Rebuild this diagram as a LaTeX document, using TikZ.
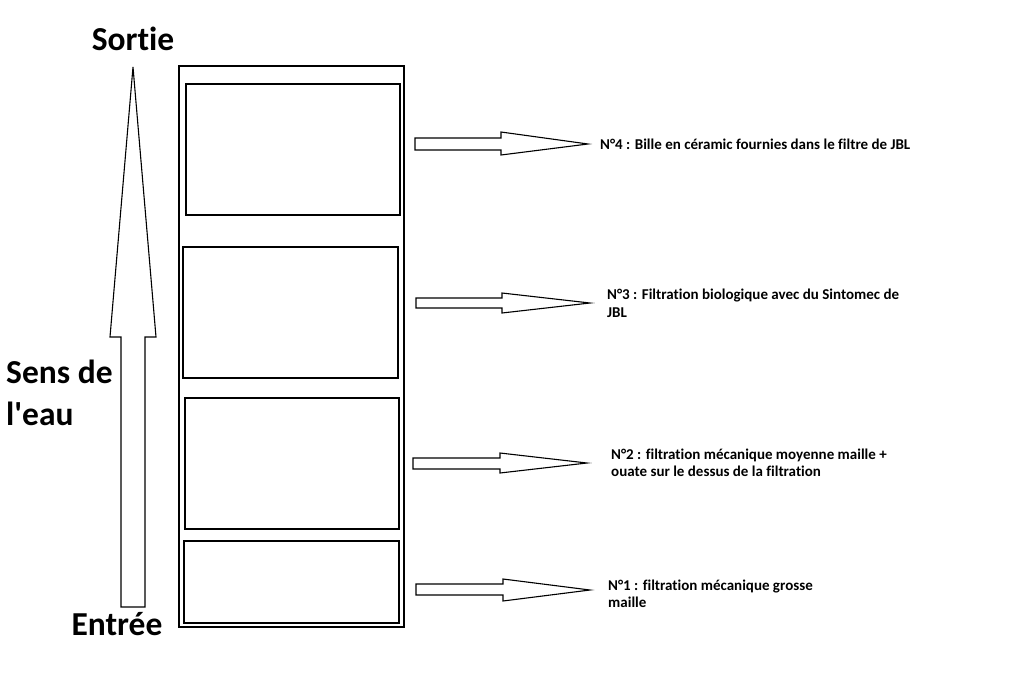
\documentclass[tikz,border=0pt]{standalone}
\usepackage{fontspec}
\setmainfont{Carlito}[Ligatures={TeXOff,NoCommon}]
\begin{document}
\begin{tikzpicture}[x=1pt,y=-1pt,
  frame/.style={draw,line width=1.2pt},
  layer/.style={draw,line width=1.8pt},
  blk/.style={draw,line width=1.1pt,line join=miter,fill=white},
  lbl/.style={font=\bfseries\fontsize{15}{17}\selectfont,anchor=base west,inner sep=0pt},
  big/.style={font=\bfseries\fontsize{33.5}{42}\selectfont,inner sep=0pt}]
\useasboundingbox[fill=white] (0,0) rectangle (1026,675);
% filter column
\draw[frame] (179,66) rectangle (404,627);
\draw[layer] (186,84) rectangle (400,215);
\draw[layer] (183,247) rectangle (398,378);
\draw[layer] (185,398) rectangle (399,529);
\draw[layer] (184,541) rectangle (399,623);
% big up arrow
\draw[blk] (121,607) -- (121,337) -- (110,337) -- (133,67) -- (156,337) -- (145,337) -- (145,607) -- cycle;
% side arrows
\draw[blk] (415,138) -- (501,138) -- (501,132) -- (588,144) -- (501,155) -- (501,150) -- (415,150) -- cycle;
\draw[blk] (416,298) -- (502,298) -- (502,293) -- (590,303) -- (502,313) -- (502,308) -- (416,308) -- cycle;
\draw[blk] (413,458) -- (500,458) -- (500,453) -- (587,463) -- (500,473) -- (500,469) -- (413,469) -- cycle;
\draw[blk] (416,584) -- (503,584) -- (503,579) -- (590,590) -- (503,601) -- (503,595) -- (416,595) -- cycle;
% labels
\node[lbl] (t4) at (600,149) {N°4 : Bille en céramic fournies dans le filtre de JBL};
\node[lbl] (t3a) at (607,299) {N°3 : Filtration biologique avec du Sintomec de};
\node[lbl] (t3b) at (607,317) {JBL};
\node[lbl] (t2a) at (611,459) {N°2 : filtration mécanique moyenne maille +};
\node[lbl] (t2b) at (611,476) {ouate sur le dessus de la filtration};
\node[lbl] (t1a) at (608,590) {N°1 : filtration mécanique grosse};
\node[lbl] (t1b) at (608,607) {maille};
\node[big,anchor=base] (sortie) at (133,50) {Sortie};
\node[big,anchor=base] (entree) at (117,635) {Entrée};
\node[big,anchor=base west] (sens) at (6,383) {Sens de};
\node[big,anchor=base west] (eau) at (6,425) {l'eau};
\end{tikzpicture}
\end{document}
